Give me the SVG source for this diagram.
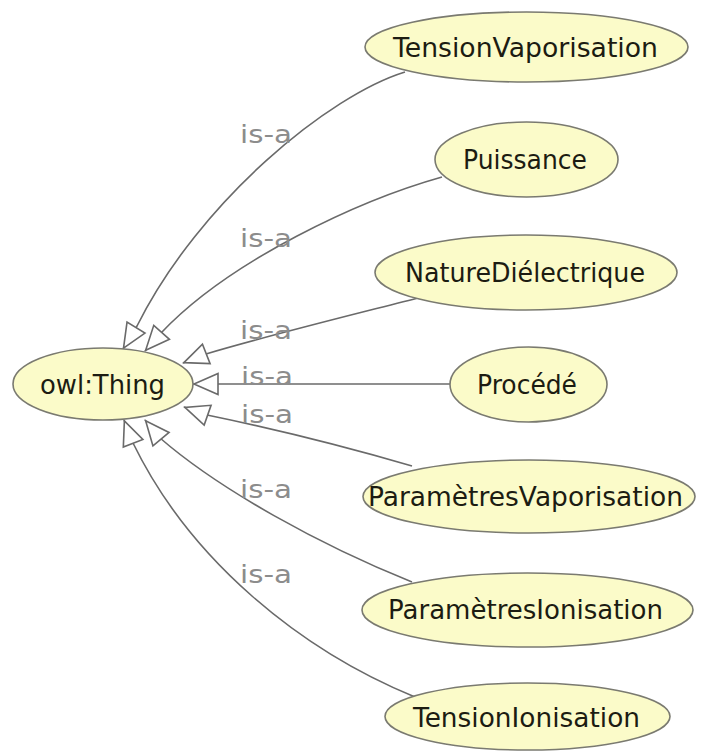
<svg xmlns="http://www.w3.org/2000/svg" width="703" height="753" viewBox="0 0 703 753">
<style>
.node ellipse{fill:#fbfbc9;stroke:#7a7a70;stroke-width:1.6}
.node text{font-family:"DejaVu Sans","Liberation Sans",sans-serif;font-size:26px;fill:#1c1c12;text-anchor:middle}
.edge{fill:none;stroke:#6a6a6a;stroke-width:1.6;marker-end:url(#tri)}
.lbl{font-family:"DejaVu Sans","Liberation Sans",sans-serif;font-size:25px;fill:#8c8c8c}
</style>
<defs>
<marker id="tri" markerUnits="userSpaceOnUse" markerWidth="30" markerHeight="28" viewBox="-28 -14 30 28" refX="0" refY="0" orient="auto">
<path d="M-1,0 L-25,-10.5 L-25,10.5 Z" fill="#ffffff" stroke="#6a6a6a" stroke-width="1.6"/>
</marker>
</defs>
<rect width="703" height="753" fill="#ffffff"/>
<g id="edges">
<path class="edge" d="M405 72 C330 95 200 200 137 326 L123 349"/>
<path class="edge" d="M442 177 C360 200 230 260 161 333 L145 351"/>
<path class="edge" d="M418 298 C340 318 270 335 206 354 L183 363"/>
<path class="edge" d="M452 384 L193 384"/>
<path class="edge" d="M412 466 C340 445 270 428 207 415 L184 407"/>
<path class="edge" d="M412 582 C320 545 220 490 160 438 L145 420"/>
<path class="edge" d="M415 697 C300 650 190 560 133 443 L124 420"/>
</g>
<g id="labels">
<text class="lbl" x="240" y="143" textLength="52" lengthAdjust="spacingAndGlyphs">is-a</text>
<text class="lbl" x="240" y="247" textLength="52" lengthAdjust="spacingAndGlyphs">is-a</text>
<text class="lbl" x="240" y="339" textLength="52" lengthAdjust="spacingAndGlyphs">is-a</text>
<text class="lbl" x="241" y="385" textLength="52" lengthAdjust="spacingAndGlyphs">is-a</text>
<text class="lbl" x="241" y="423" textLength="52" lengthAdjust="spacingAndGlyphs">is-a</text>
<text class="lbl" x="240" y="498" textLength="52" lengthAdjust="spacingAndGlyphs">is-a</text>
<text class="lbl" x="240" y="583" textLength="52" lengthAdjust="spacingAndGlyphs">is-a</text>
</g>
<g id="owlThing" class="node"><ellipse cx="103" cy="384" rx="90" ry="36"/><text x="102.5" y="394" textLength="125" lengthAdjust="spacingAndGlyphs">owl:Thing</text></g>
<g id="TensionVaporisation" class="node"><ellipse cx="526.5" cy="47" rx="161.5" ry="35"/><text x="525.5" y="57" textLength="265" lengthAdjust="spacingAndGlyphs">TensionVaporisation</text></g>
<g id="Puissance" class="node"><ellipse cx="526.5" cy="159.5" rx="91.5" ry="37.5"/><text x="525" y="169" textLength="124" lengthAdjust="spacingAndGlyphs">Puissance</text></g>
<g id="NatureDielectrique" class="node"><ellipse cx="526" cy="272.5" rx="151" ry="37.5"/><text x="525" y="282" textLength="240" lengthAdjust="spacingAndGlyphs">NatureDiélectrique</text></g>
<g id="Procede" class="node"><ellipse cx="528.5" cy="384.5" rx="78.5" ry="37.5"/><text x="527" y="394" textLength="100" lengthAdjust="spacingAndGlyphs">Procédé</text></g>
<g id="ParametresVaporisation" class="node"><ellipse cx="529" cy="496.5" rx="166" ry="36.5"/><text x="525.5" y="506" textLength="315" lengthAdjust="spacingAndGlyphs">ParamètresVaporisation</text></g>
<g id="ParametresIonisation" class="node"><ellipse cx="527.5" cy="610" rx="165.5" ry="37"/><text x="525.5" y="619" textLength="275" lengthAdjust="spacingAndGlyphs">ParamètresIonisation</text></g>
<g id="TensionIonisation" class="node"><ellipse cx="527.5" cy="716.5" rx="142.5" ry="33.5"/><text x="526.5" y="727" textLength="227" lengthAdjust="spacingAndGlyphs">TensionIonisation</text></g>
</svg>
